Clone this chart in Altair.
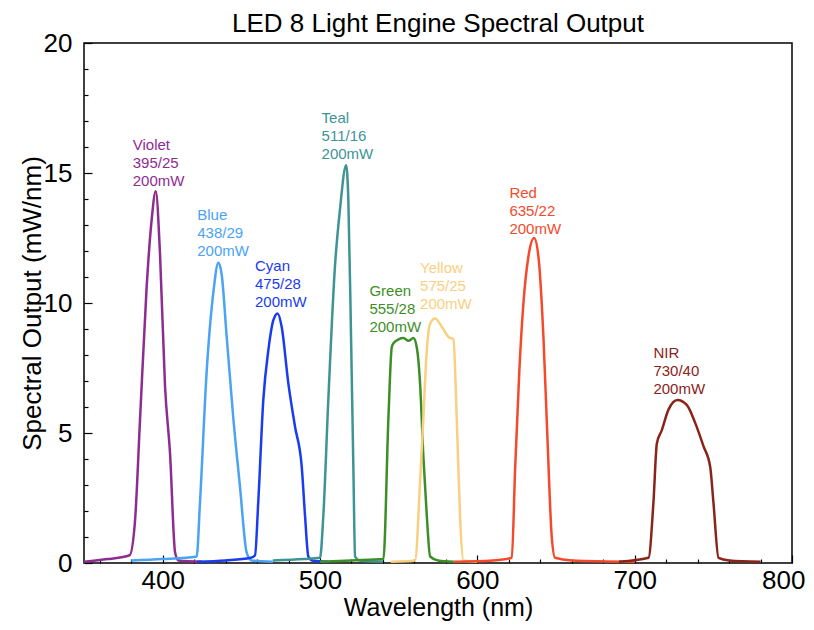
import altair as alt
import pandas as pd

FONT = "Liberation Sans"

chart_title = "LED 8 Light Engine Spectral Output"
series = ["Violet", "Blue", "Cyan", "Teal", "Green", "Yellow", "Red", "NIR"]
specs = ["395/25", "438/29", "475/28", "511/16", "555/28", "575/25", "635/22", "730/40"]
powers = ["200mW"] * 8
colors = ["#8E2C91", "#4AA3F5", "#1A3CF0", "#3E9494", "#3C8F27", "#F8D07F", "#F44A2C", "#8A2419"]

violet_wl = [350, 365, 379, 382.4, 385.6, 389.8, 393, 395.6, 398.3, 401.5, 404.7, 407.9, 410, 425]
violet_val = [0.05, 0.15, 0.3, 1.6, 5.5, 10.6, 13.2, 14.3, 11.9, 6.8, 4.2, 0.4, 0.1, 0.05]

blue_wl = [380, 400, 421.6, 423.7, 428, 432.2, 435.4, 437.5, 440.7, 445, 449.2, 453.4, 456.5, 470]
blue_val = [0.1, 0.15, 0.25, 2.3, 7.4, 10.4, 11.55, 11.1, 8.7, 5.5, 2.9, 0.4, 0.1, 0.05]

cyan_wl = [422, 440, 456, 458.7, 460.8, 464, 467.2, 470.4, 473.1, 475.6, 479.9, 484.1, 488.4, 490.5, 492.6, 495, 505]
cyan_val = [0.05, 0.1, 0.2, 0.3, 2.4, 6.3, 8.2, 9.35, 9.6, 9.1, 6.9, 5.25, 3.7, 1.8, 0.25, 0.1, 0.05]

teal_wl = [470, 490, 500, 502.1, 505.3, 509.5, 512.7, 516.6, 518, 519.7, 521.2, 522.3, 525, 540]
teal_val = [0.1, 0.15, 0.2, 1.8, 6.3, 11.4, 13.6, 15.3, 14.0, 8.8, 3.7, 0.25, 0.1, 0.05]

green_wl = [500, 520, 540.3, 543.5, 545.6, 546.7, 549.9, 553.1, 556.2, 559.4, 561.5, 563.6, 565.7, 567.9, 570, 575, 585]
green_val = [0.05, 0.1, 0.15, 5.6, 8.3, 8.45, 8.6, 8.65, 8.55, 8.65, 8.3, 6.9, 4.1, 1.8, 0.25, 0.1, 0.05]

yellow_wl = [545, 560.4, 563.6, 565.7, 567.9, 570, 573.1, 577.3, 581.6, 584.8, 586.9, 589, 591.1, 600]
yellow_val = [0.05, 0.1, 3.1, 5.6, 8.2, 9.2, 9.4, 9.1, 8.7, 8.6, 5.6, 1.8, 0.1, 0.05]

red_wl = [585, 610, 621.9, 624, 626.7, 629.3, 632.5, 636.1, 638.8, 642, 644.5, 647.3, 649.4, 660, 700]
red_val = [0.05, 0.1, 0.2, 3.6, 7.4, 10.0, 11.8, 12.5, 11.8, 8.7, 4.9, 1.0, 0.2, 0.1, 0.05]

nir_wl = [690, 708.8, 711.9, 714.1, 717.2, 721.5, 727.2, 733.1, 738.4, 743.7, 748, 750.1, 753.3, 760, 780]
nir_val = [0.05, 0.2, 2.3, 4.6, 5.1, 5.9, 6.27, 6.08, 5.4, 4.5, 3.7, 2.3, 0.2, 0.1, 0.05]

label_wl = [381, 422, 458.7, 501, 531.4, 563.6, 620.4, 711.9]
label_val = [16.35, 13.65, 11.7, 17.4, 10.73, 11.6, 14.5, 8.35]

x_major = [400, 500, 600, 700, 800]
x_minor = [360, 380, 420, 440, 460, 480, 520, 540, 560, 580, 620, 640, 660, 680, 720, 740, 760, 780]
y_major = [0, 5, 10, 15, 20]
y_minor = [1, 2, 3, 4, 6, 7, 8, 9, 11, 12, 13, 14, 16, 17, 18, 19]

W, H = 708, 520

all_wl = [violet_wl, blue_wl, cyan_wl, teal_wl, green_wl, yellow_wl, red_wl, nir_wl]
all_val = [violet_val, blue_val, cyan_val, teal_val, green_val, yellow_val, red_val, nir_val]

rows = []
for name, wls, vals in zip(series, all_wl, all_val):
    for w, v in zip(wls, vals):
        rows.append({"series": name, "wl": w, "val": v})
df = pd.DataFrame(rows)

lab = pd.DataFrame({
    "series": series,
    "wl": label_wl,
    "val": label_val,
    "text": [f"{s}\n{p}\n{m}" for s, p, m in zip(series, specs, powers)],
})

xscale = alt.Scale(domain=[350, 800], nice=False, zero=False)
yscale = alt.Scale(domain=[0, 20], nice=False, zero=True)
cscale = alt.Scale(domain=series, range=colors)

main_x = alt.Axis(orient="bottom", values=x_major, ticks=False, domain=False, grid=False,
                  labelFont=FONT, labelFontSize=26, labelColor="black", labelPadding=4,
                  labelFlush=True, labelFlushOffset=13, labelOverlap=False,
                  title="Wavelength (nm)", titleFont=FONT, titleFontSize=25,
                  titleFontWeight="normal", titleColor="black",
                  titleY=52, titleBaseline="alphabetic")
main_y = alt.Axis(orient="left", values=y_major, ticks=False, domain=False, grid=False,
                  labelFont=FONT, labelFontSize=26, labelColor="black", labelPadding=12,
                  labelFlush=False, labelOverlap=False,
                  title="Spectral Output (mW/nm)", titleFont=FONT, titleFontSize=26,
                  titleFontWeight="normal", titleColor="black",
                  titleX=-52, titleY=H / 2, titleAngle=270, titleAlign="center",
                  titleBaseline="middle")


def tick_axis_x(vals, size):
    return alt.Axis(orient="top", offset=-H, values=vals, labels=False, domain=False, grid=False,
                    ticks=True, tickSize=size, tickColor="black", tickWidth=1.2, title=None)


def tick_axis_y(vals, size):
    return alt.Axis(orient="right", offset=-W, values=vals, labels=False, domain=False, grid=False,
                    ticks=True, tickSize=size, tickColor="black", tickWidth=1.2, title=None)


lines = alt.Chart(df).mark_line(strokeWidth=2.5, interpolate="monotone", clip=True).encode(
    x=alt.X("wl:Q", scale=xscale, axis=main_x),
    y=alt.Y("val:Q", scale=yscale, axis=main_y),
    color=alt.Color("series:N", scale=cscale, legend=None),
)

texts = alt.Chart(lab).mark_text(align="left", baseline="top", font=FONT, fontSize=15,
                                 lineHeight=18, lineBreak="\n").encode(
    x=alt.X("wl:Q", scale=xscale, axis=tick_axis_x(x_major, 8)),
    y=alt.Y("val:Q", scale=yscale, axis=tick_axis_y(y_major, 8)),
    text="text:N",
    color=alt.Color("series:N", scale=cscale, legend=None),
)

minor = alt.Chart(df).mark_point(opacity=0).encode(
    x=alt.X("wl:Q", scale=xscale, axis=tick_axis_x(x_minor, 4)),
    y=alt.Y("val:Q", scale=yscale, axis=tick_axis_y(y_minor, 4)),
)

title_layer = alt.Chart(pd.DataFrame({"t": [chart_title]})).mark_text(
    font=FONT, fontSize=26, color="black", align="center", baseline="alphabetic"
).encode(
    text="t:N",
    x=alt.value(W / 2),
    y=alt.value(-11),
)

chart = alt.layer(lines, texts, minor, title_layer).resolve_axis(
    x="independent", y="independent"
).properties(
    width=W, height=H,
    autosize="none",
    padding={"left": 76, "top": 35, "right": 14, "bottom": 59},
).configure_view(stroke="black", strokeWidth=1.5)

chart.save("out.html", embed_options={"renderer": "svg", "actions": False})
